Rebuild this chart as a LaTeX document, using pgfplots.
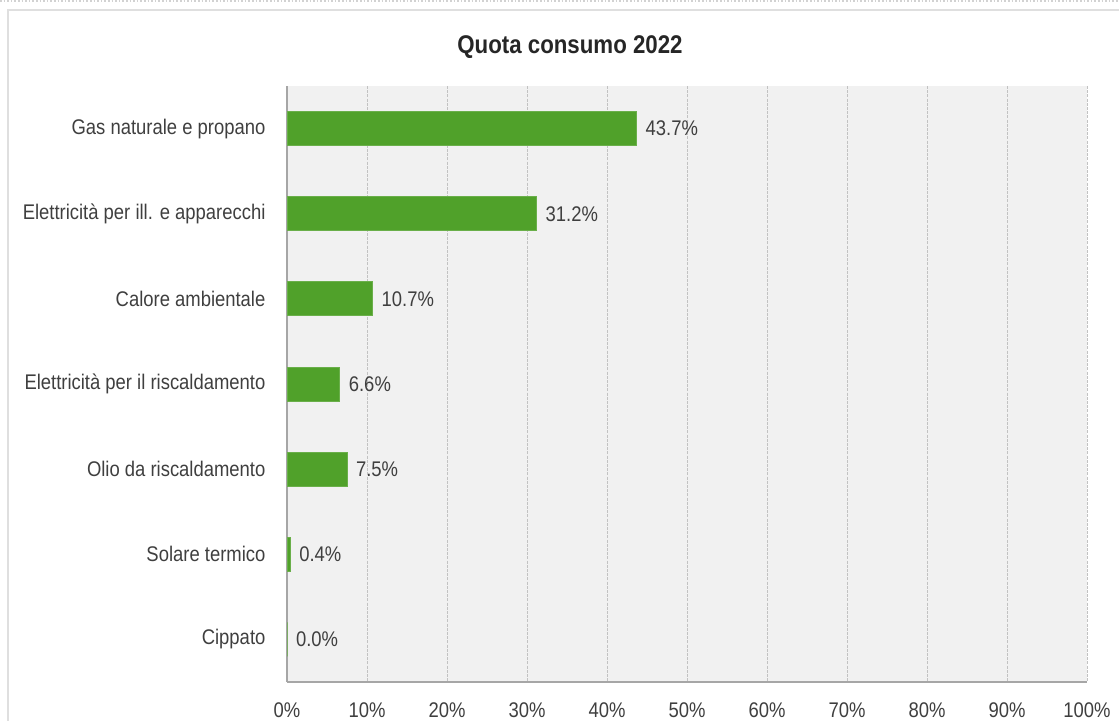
\documentclass[border=0pt]{standalone}
\usepackage{pgfplots}
\pgfplotsset{compat=1.18}
\usepackage{fontspec}
\setmainfont{Liberation Sans}[FakeStretch=0.87]
\definecolor{barg}{HTML}{50A12A}
\definecolor{bgc}{HTML}{F1F1F1}
\definecolor{txt}{HTML}{3F3F3F}
\begin{document}
\begin{tikzpicture}
\useasboundingbox (0,0) rectangle (559.5pt,360.5pt);
% outer frame
\draw[gray!25, line width=1pt] (4pt,0pt) -- (4pt,355.5pt) -- (559.5pt,355.5pt);
\draw[gray!35, densely dotted, line width=0.8pt] (0pt,360pt) -- (559.5pt,360pt);
\node[font=\fontsize{12.8}{14}\selectfont\bfseries, text=black!85] at (285pt,337pt) {Quota consumo 2022};
\begin{axis}[
    at={(143.5pt,19.5pt)}, anchor=south west,
    scale only axis,
    width=400pt, height=298pt,
    xbar, bar width=17pt,
    xmin=0, xmax=100,
    ymin=-0.5, ymax=6.5,
    y dir=reverse,
    xtick={0,10,...,100},
    xticklabel={\pgfmathprintnumber{\tick}\%},
    ytick={0,...,6},
    yticklabels={Gas naturale e propano, Elettricità per ill. e apparecchi, Calore ambientale, Elettricità per il riscaldamento, Olio da riscaldamento, Solare termico, Cippato},
    /pgf/number format/assume math mode=true,
    tick style={draw=none},
    xmajorgrids, grid style={dash pattern=on 1.5pt off 0.6pt, color=black!24, line width=0.5pt},
    axis background/.style={fill=bgc},
    axis x line*=bottom, axis y line*=left,
    axis line style={black!35, line width=1pt, -},
    tick label style={font=\fontsize{10.6}{12}\selectfont, text=txt},
    yticklabel style={xshift=-3pt},
    xticklabel style={yshift=-7pt},
    nodes near coords={\pgfmathprintnumber[fixed,fixed zerofill,precision=1]{\pgfplotspointmeta}\%},
    nodes near coords style={font=\fontsize{10.6}{12}\selectfont, text=txt, anchor=west, xshift=1pt},
]
\addplot[fill=barg, draw=barg!85!white, line width=0.4pt] coordinates {
    (43.7,0)
    (31.2,1)
    (10.7,2)
    (6.6,3)
    (7.5,4)
    (0.4,5)
    (0.0,6)
};
\end{axis}
\end{tikzpicture}
\end{document}
